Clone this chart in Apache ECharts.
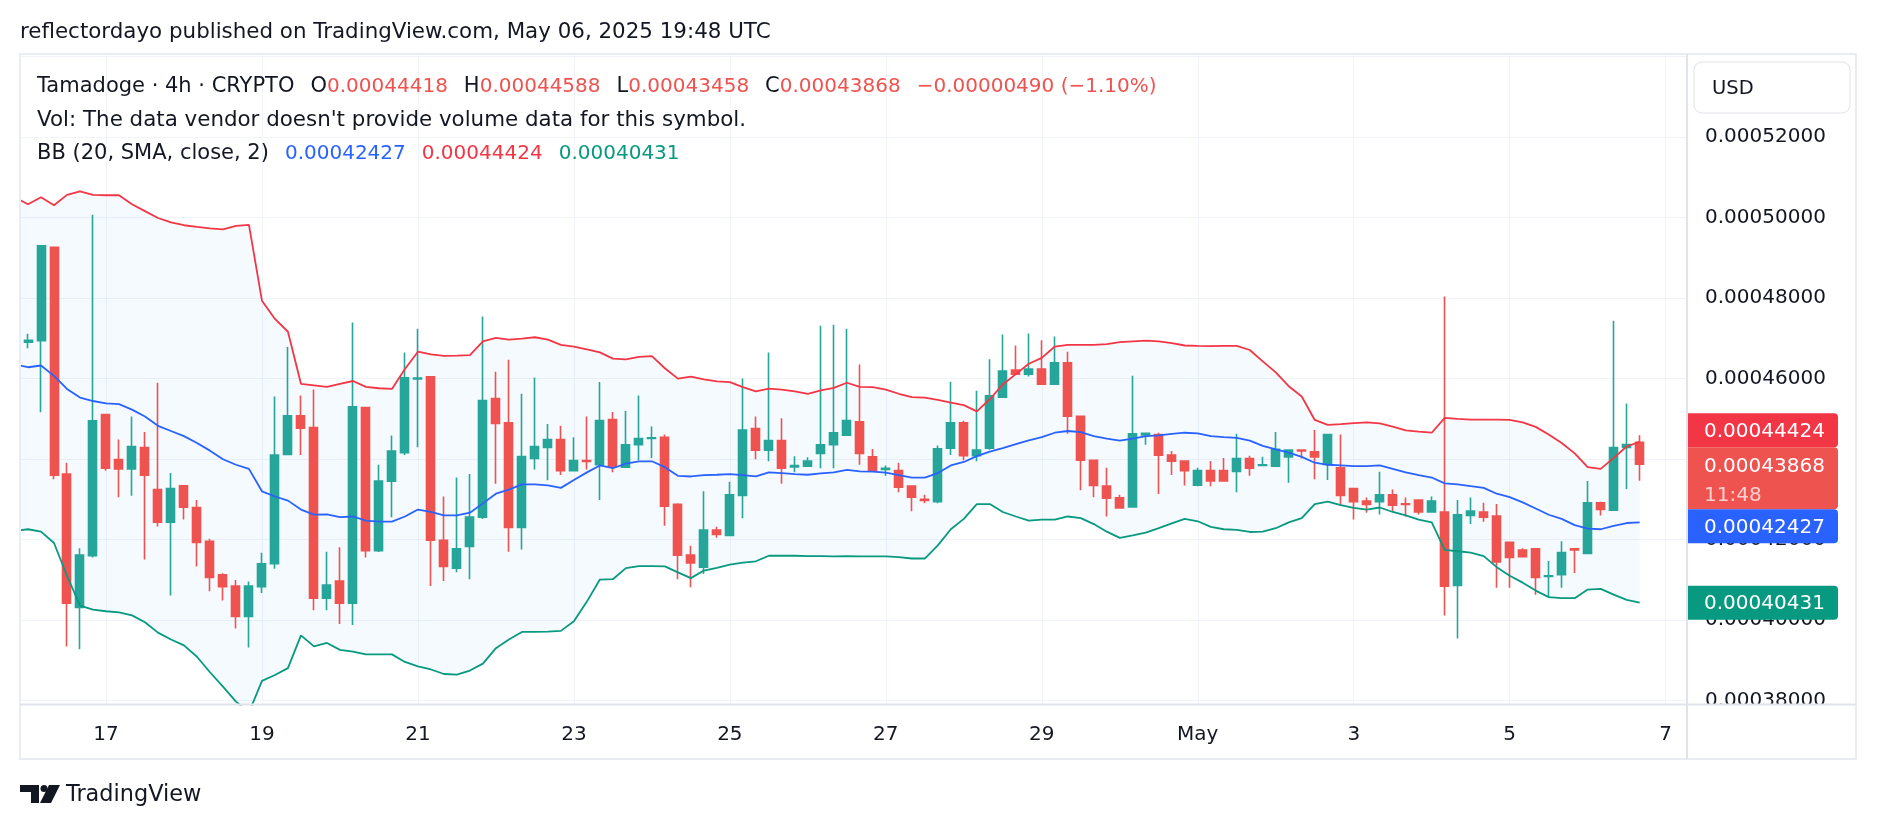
<!DOCTYPE html>
<html>
<head>
<meta charset="utf-8">
<title>Tamadoge 4h</title>
<script src="https://cdn.jsdelivr.net/npm/echarts@6/dist/echarts.min.js"></script>
<style>
  html, body { margin: 0; padding: 0; background: #fff; }
  #chart { width: 1878px; height: 830px; }
</style>
</head>
<body>
<div id="chart"></div>
<script>
// prices in units of 1e-8 USD
var UNIT = 1e-8;

// 4h candles, index 0 = Apr 16 00:00 UTC ... 124 = May 6 16:00 UTC
var opens = [
  46900, 46940, 49260, 43626, 40312, 41600, 45107, 43985, 43754, 44285,
  43240, 42427, 43334, 42795, 41956, 41125, 40843, 40089, 40825, 41399,
  44114, 45073, 44782, 40543, 40971, 40415, 45278, 41725, 43446, 44157,
  45990, 46041, 41982, 41288, 41827, 42555, 45501, 44902, 42298, 44011,
  44285, 44482, 43711, 43960, 43857, 44979, 43797, 44353, 44508, 44542,
  42872, 41613, 41313, 42238, 42101, 43095, 44756, 44216, 44456, 43800,
  43823, 44139, 44353, 44593, 44927, 44054, 43740, 43711, 43326, 43000,
  42941, 44268, 44902, 44080, 44268, 45535, 46212, 46109, 46237, 45861,
  46391, 45064, 43968, 43326, 43035, 42812, 44600, 44610, 44097, 43951,
  43352, 43711, 43711, 43694, 44011, 43840, 43823, 44054, 44225, 44182,
  43866, 43780, 43266, 42958, 42941, 43112, 42890, 42983, 42684, 42684,
  40860, 42598, 42684, 42581, 41930, 41741, 41767, 41080, 41125, 41767,
  41656, 42915, 42727, 44285, 44418
];
var closes = [
  46950, 49300, 43600, 40415, 41613, 44950, 43771, 43754, 44311, 43600,
  42427, 43266, 42804, 41930, 41057, 40825, 40089, 40843, 41399, 44097,
  45073, 44765, 40543, 40868, 40415, 45295, 41725, 43454, 44199, 46015,
  46010, 41982, 41331, 41767, 42555, 45450, 44884, 42298, 44062, 44311,
  44482, 43711, 43960, 43940, 44953, 43823, 44353, 44508, 44525, 42830,
  41613, 41416, 42238, 42127, 43112, 44722, 44216, 44456, 43771, 43840,
  43951, 44353, 44653, 44953, 44139, 43711, 43771, 43300, 43052, 42970,
  44251, 44902, 44080, 44225, 45569, 46186, 46109, 46237, 45861, 46391,
  45064, 43968, 43343, 43026, 42787, 44627, 44640, 44097, 43943, 43711,
  43711, 43454, 43454, 44011, 43771, 43857, 44242, 44225, 44200, 44054,
  44610, 43095, 42941, 42872, 43112, 42855, 42872, 42684, 42958, 40843,
  42615, 42709, 42555, 41442, 41553, 41570, 41057, 41100, 41673, 41740,
  42915, 42744, 44285, 44358, 43868
];
var lows = [
  46750, 45160, 43500, 39340, 39276, 41550, 43710, 43052, 43086, 41502,
  42324, 40611, 42495, 41331, 40714, 40483, 39789, 39318, 40671, 41271,
  44097, 44097, 40243, 40243, 39901, 39875, 41554, 41690, 42555, 44100,
  44294, 40843, 40971, 41185, 41014, 42510, 43386, 41699, 41750, 43737,
  43472, 43600, 43690, 43737, 42984, 43668, 43797, 43968, 44028, 42341,
  41014, 40817, 41142, 42041, 42101, 42530, 43994, 43943, 43386, 43668,
  43823, 43771, 43771, 44570, 43857, 43711, 43583, 43172, 42701, 42898,
  42898, 44097, 43968, 43943, 44230, 45535, 46109, 46050, 45861, 45861,
  44627, 43223, 43052, 42572, 42787, 42812, 44353, 43129, 43600, 43343,
  43326, 43326, 43454, 43172, 43583, 43840, 43823, 43412, 44011, 43497,
  43480, 42838, 42495, 42667, 42624, 42684, 42572, 42624, 42684, 40115,
  39541, 42384, 42444, 40800, 40800, 41553, 40629, 40569, 40800, 41168,
  41656, 42598, 42727, 43257, 43458
];
var highs = [
  47110, 49320, 49280, 43910, 41785, 50070, 45120, 44482, 45056, 44670,
  45895, 43651, 43350, 42983, 42016, 41160, 40997, 40954, 41673, 45552,
  46785, 45578, 45724, 41699, 41810, 47393, 45295, 43857, 44585, 46648,
  47239, 46060, 43069, 43540, 43626, 47539, 46169, 46469, 45621, 46024,
  44867, 44825, 44542, 45056, 45912, 45167, 45193, 45578, 44807, 44610,
  42900, 41844, 43198, 42315, 43437, 45998, 45056, 46648, 45013, 44071,
  44045, 47308, 47333, 47239, 46349, 44251, 43840, 43908, 43340, 43112,
  44336, 45921, 44950, 45698, 46477, 47094, 46820, 47119, 46948, 47042,
  46665, 45064, 43968, 43780, 43112, 46066, 44650, 44650, 44199, 43951,
  43780, 43951, 44028, 44627, 44080, 44054, 44670, 44225, 44225, 44722,
  44627, 44610, 43283, 43043, 43685, 43240, 43043, 42983, 43069, 48036,
  42983, 43043, 42915, 42881, 41930, 41785, 41767, 41468, 41956, 41767,
  43454, 42940, 47436, 45381, 44588
];

// BB (20, SMA, close, 2), one value per candle, first value belongs to candle -1
var bandStart = -1;
var bbUpper = [
  50502,
  50330, 50502, 50305, 50562, 50647, 50562, 50553, 50553, 50330, 50159,
  49988, 49877, 49808, 49765, 49731, 49705, 49791, 49817, 47933, 47479,
  47162, 45869, 45830, 45792, 45869, 45938, 45792, 45758, 45741, 46237,
  46665, 46597, 46563, 46571, 46580, 46922, 47008, 46965, 46991, 47025,
  46965, 46837, 46794, 46725, 46648, 46494, 46477, 46537, 46554, 46255,
  45998, 46049, 45981, 45929, 45912, 45784, 45681, 45749, 45724, 45681,
  45621, 45707, 45767, 45895, 45792, 45784, 45724, 45621, 45535, 45527,
  45467, 45398, 45338, 45184, 45484, 45852, 46109, 46366, 46511, 46794,
  46837, 46837, 46837, 46854, 46905, 46922, 46939, 46922, 46880, 46820,
  46811, 46803, 46811, 46811, 46708, 46426, 46151, 45809, 45552, 44970,
  44850, 44867, 44893, 44910, 44884, 44807, 44713, 44679, 44653, 45021,
  44996, 44979, 44979, 44979, 44970, 44910, 44799, 44610, 44396, 44139,
  43797, 43754, 44028, 44311, 44424
];
var bbBasis = [
  46349,
  46280, 46323, 46066, 45741, 45527, 45441, 45381, 45364, 45227, 45056,
  44825, 44696, 44568, 44396, 44208, 43994, 43857, 43754, 43198, 43069,
  42966, 42744, 42620, 42624, 42555, 42572, 42470, 42444, 42444, 42572,
  42744, 42684, 42598, 42598, 42667, 42898, 43138, 43240, 43369, 43369,
  43343, 43283, 43480, 43668, 43840, 43771, 43883, 43943, 43943, 43797,
  43583, 43566, 43600, 43609, 43626, 43600, 43566, 43668, 43651, 43626,
  43609, 43643, 43668, 43728, 43694, 43685, 43660, 43600, 43540, 43540,
  43651, 43840, 43926, 44071, 44182, 44268, 44371, 44465, 44542, 44653,
  44696, 44670, 44568, 44508, 44456, 44508, 44568, 44585, 44627, 44653,
  44636, 44568, 44542, 44525, 44456, 44328, 44242, 44157, 44054, 43908,
  43857, 43840, 43823, 43823, 43840, 43754, 43668, 43600, 43540, 43395,
  43370, 43326, 43283, 43138, 43052, 42923, 42769, 42615, 42512, 42358,
  42272, 42255, 42341, 42410, 42427
];
var bbLower = [
  42213,
  42255, 42195, 41913, 41100, 40355, 40260, 40218, 40192, 40115, 39944,
  39687, 39516, 39370, 39087, 38702, 38343, 37974, 37700, 38488, 38633,
  38805, 39618, 39344, 39430, 39259, 39216, 39147, 39147, 39147, 38959,
  38848, 38771, 38659, 38642, 38745, 38916, 39301, 39516, 39704, 39704,
  39712, 39730, 39970, 40457, 41005, 41014, 41288, 41339, 41339, 41331,
  41185, 41040, 41228, 41296, 41374, 41425, 41459, 41596, 41596, 41596,
  41588, 41588, 41579, 41588, 41579, 41579, 41580, 41562, 41528, 41528,
  41853, 42255, 42512, 42881, 42881, 42684, 42572, 42470, 42495, 42495,
  42572, 42530, 42384, 42195, 42041, 42101, 42170, 42281, 42401, 42512,
  42453, 42315, 42255, 42238, 42187, 42195, 42281, 42427, 42530, 42881,
  42941, 42855, 42787, 42744, 42795, 42684, 42598, 42495, 42427, 41741,
  41708, 41673, 41588, 41313, 41100, 40928, 40731, 40569, 40543, 40543,
  40757, 40774, 40629, 40500, 40431
];

// time axis: candle index of the day start and its label
var dateTickIdx = [6, 18, 30, 42, 54, 66, 78, 90, 102, 114, 126];
var dateTickText = ['17', '19', '21', '23', '25', '27', '29', 'May', '3', '5', '7'];

// price axis labels, and the grid lines (one more at the very top, under the USD button)
var priceTicks = [38000, 40000, 42000, 44000, 46000, 48000, 50000, 52000];
var priceGrid = [38000, 40000, 42000, 44000, 46000, 48000, 50000, 52000, 54000];

var FONT = '"DejaVu Sans", sans-serif';
var TEXT = '#131722';
var UP = '#26A69A', DOWN = '#EF5350';

var candleData = opens.map(function (o, i) {
  return [i, o * UNIT, closes[i] * UNIT, lows[i] * UNIT, highs[i] * UNIT];
});
function bandData(arr) {
  return arr.map(function (v, k) { return [bandStart + k, v * UNIT]; });
}
function toPrice(v) { return v * UNIT; }

var chart = echarts.init(document.getElementById('chart'));

var option = {
  animation: false,
  backgroundColor: '#fff',
  grid: { left: 20, right: 191, top: 53, bottom: 125.5 },
  xAxis: {
    type: 'value',
    min: -0.616,
    max: 127.64,
    axisLine: { show: false },
    axisTick: { show: false, customValues: dateTickIdx },
    axisLabel: {
      customValues: dateTickIdx,
      formatter: function (v) { return dateTickText[dateTickIdx.indexOf(v)]; },
      color: TEXT, fontSize: 20, fontFamily: FONT, margin: 20
    },
    splitLine: { show: true, lineStyle: { color: '#F0F3FA', width: 1 } }
  },
  yAxis: {
    type: 'value',
    position: 'right',
    min: 0.00037901,
    max: 0.00054087,
    axisLine: { show: false },
    axisTick: { show: false, customValues: priceGrid.map(toPrice) },
    axisLabel: {
      customValues: priceTicks.map(toPrice),
      formatter: function (v) { return v.toFixed(8); },
      color: TEXT, fontSize: 20, fontFamily: FONT, margin: 18,
      padding: [6, 0, 0, 0]
    },
    splitLine: { show: true, lineStyle: { color: '#F0F3FA', width: 1 } }
  },
  series: [
    {
      // light fill between the upper and lower band
      name: 'bbFill', type: 'custom', silent: true, clip: true, z: 1,
      data: [[60, 0.00044]],
      renderItem: function (params, api) {
        var pts = [];
        bbUpper.forEach(function (v, k) { pts.push(api.coord([bandStart + k, v * UNIT])); });
        for (var k = bbLower.length - 1; k >= 0; k--) {
          pts.push(api.coord([bandStart + k, bbLower[k] * UNIT]));
        }
        return { type: 'polygon', shape: { points: pts }, style: { fill: 'rgba(33,150,243,0.05)' } };
      }
    },
    {
      name: 'candles', type: 'candlestick', data: candleData,
      encode: { x: 0, y: [1, 2, 3, 4] },
      barWidth: 8.5,
      itemStyle: { color: UP, color0: DOWN, borderColor: UP, borderColor0: DOWN, borderWidth: 1.6 },
      z: 3
    },
    {
      name: 'upper', type: 'line', data: bandData(bbUpper), symbol: 'none',
      lineStyle: { color: '#F23645', width: 1.8 }, z: 4
    },
    {
      name: 'basis', type: 'line', data: bandData(bbBasis), symbol: 'none',
      lineStyle: { color: '#2962FF', width: 1.8 }, z: 4
    },
    {
      name: 'lower', type: 'line', data: bandData(bbLower), symbol: 'none',
      lineStyle: { color: '#089981', width: 1.8 }, z: 4
    }
  ]
};
chart.setOption(option);

// legend / overlay texts
var last = opens.length - 1;
function fmt(v) { return (v * UNIT).toFixed(8); }
var change = closes[last] - closes[last - 1];
var sign = change < 0 ? '\u2212' : '+';
var chgText = sign + fmt(Math.abs(change)) + ' (' + sign +
  Math.abs(change / closes[last - 1] * 100).toFixed(2) + '%)';

function rs(fill, size) { return { fill: fill, fontSize: size || 20, fontFamily: FONT }; }
var rich = {
  k: rs(TEXT, 21), r: rs('#EF5350'), b: rs('#2962FF'), rd: rs('#F23645'), g: rs('#089981'),
  s: { width: 16, fontSize: 20, fontFamily: FONT }
};

var line1 = '{k|Tamadoge \u00b7 4h \u00b7 CRYPTO}{s| }{k|O}{r|' + fmt(opens[last]) +
  '}{s| }{k|H}{r|' + fmt(highs[last]) + '}{s| }{k|L}{r|' + fmt(lows[last]) +
  '}{s| }{k|C}{r|' + fmt(closes[last]) + '}{s| }{r|' + chgText + '}';
var line3 = '{k|BB (20, SMA, close, 2)}{s| }{b|' + fmt(bbBasis[bbBasis.length - 1]) +
  '}{s| }{rd|' + fmt(bbUpper[bbUpper.length - 1]) + '}{s| }{g|' + fmt(bbLower[bbLower.length - 1]) + '}';

// price tags on the axis
function yPix(v) { return chart.convertToPixel({ gridIndex: 0 }, [0, v * UNIT])[1]; }
var TAG_H = 34, CLOSE_H = 62;
var closeTop = yPix(closes[last]) - 17;
var upTop = Math.min(yPix(bbUpper[bbUpper.length - 1]) - 17, closeTop - TAG_H);
var midTop = Math.max(yPix(bbBasis[bbBasis.length - 1]) - 17, closeTop + CLOSE_H);
var lowTop = yPix(bbLower[bbLower.length - 1]) - 17;

function tag(top, h, color, label, extra) {
  var els = [
    { type: 'rect', z: 120, shape: { x: 1688, y: top, width: 150, height: h, r: [0, 4, 4, 0] }, style: { fill: color } },
    { type: 'text', z: 121, x: 1704, y: top + (extra ? 19 : h / 2 + 1.5), style: { text: label, fill: '#fff', fontSize: 20, fontFamily: FONT, verticalAlign: 'middle' } }
  ];
  if (extra) {
    els.push({ type: 'text', z: 121, x: 1704, y: top + 48, style: { text: extra, fill: 'rgba(255,255,255,0.72)', fontSize: 20, fontFamily: FONT, verticalAlign: 'middle' } });
  }
  return els;
}

var graphics = [
  { type: 'text', x: 20, y: 32, style: { text: 'reflectordayo published on TradingView.com, May 06, 2025 19:48 UTC', fill: TEXT, fontSize: 21.4, fontFamily: FONT, verticalAlign: 'middle' } },
  { type: 'text', z: 50, x: 37, y: 87, style: { text: line1, rich: rich, verticalAlign: 'middle' } },
  { type: 'text', z: 50, x: 37, y: 120.5, style: { text: 'Vol: The data vendor doesn\'t provide volume data for this symbol.', fill: TEXT, fontSize: 21.4, fontFamily: FONT, verticalAlign: 'middle' } },
  { type: 'text', z: 50, x: 37, y: 153.5, style: { text: line3, rich: rich, verticalAlign: 'middle' } },
  // cover under the price axis in the time-scale row
  { type: 'rect', z: 100, shape: { x: 1688, y: 705, width: 167, height: 53 }, style: { fill: '#fff' } },
  // frame and separators
  { type: 'rect', z: 110, shape: { x: 20, y: 54, width: 1836, height: 705 }, style: { fill: 'none', stroke: '#E9ECF2', lineWidth: 2 } },
  { type: 'line', z: 110, shape: { x1: 20, y1: 704.5, x2: 1856, y2: 704.5 }, style: { stroke: '#E0E3EB', lineWidth: 2 } },
  { type: 'line', z: 110, shape: { x1: 1687, y1: 54, x2: 1687, y2: 759 }, style: { stroke: '#E0E3EB', lineWidth: 2 } },
  // currency button
  { type: 'rect', z: 110, shape: { x: 1694, y: 62, width: 156, height: 51, r: 8 }, style: { fill: '#fff', stroke: '#E0E3EB', lineWidth: 1 } },
  { type: 'text', z: 111, x: 1712, y: 89, style: { text: 'USD', fill: TEXT, fontSize: 19.5, fontFamily: FONT, verticalAlign: 'middle' } },
  // TradingView logo
  { type: 'polygon', z: 110, shape: { points: [[20, 785], [39, 785], [39, 803], [31, 803], [31, 792], [20, 792]] }, style: { fill: TEXT } },
  { type: 'circle', z: 110, shape: { cx: 44, cy: 788.5, r: 3.5 }, style: { fill: TEXT } },
  { type: 'polygon', z: 110, shape: { points: [[49, 785], [60, 785], [51, 803], [40, 803]] }, style: { fill: TEXT } },
  { type: 'text', z: 110, x: 66, y: 795, style: { text: 'TradingView', fill: TEXT, fontSize: 22.4, fontFamily: FONT, verticalAlign: 'middle' } }
];
graphics = graphics
  .concat(tag(upTop, TAG_H, '#F23645', fmt(bbUpper[bbUpper.length - 1])))
  .concat(tag(closeTop, CLOSE_H, '#EF5350', fmt(closes[last]), '11:48'))
  .concat(tag(midTop, TAG_H, '#2962FF', fmt(bbBasis[bbBasis.length - 1])))
  .concat(tag(lowTop, TAG_H, '#089981', fmt(bbLower[bbLower.length - 1])));

chart.setOption({ graphic: graphics });
</script>
</body>
</html>
